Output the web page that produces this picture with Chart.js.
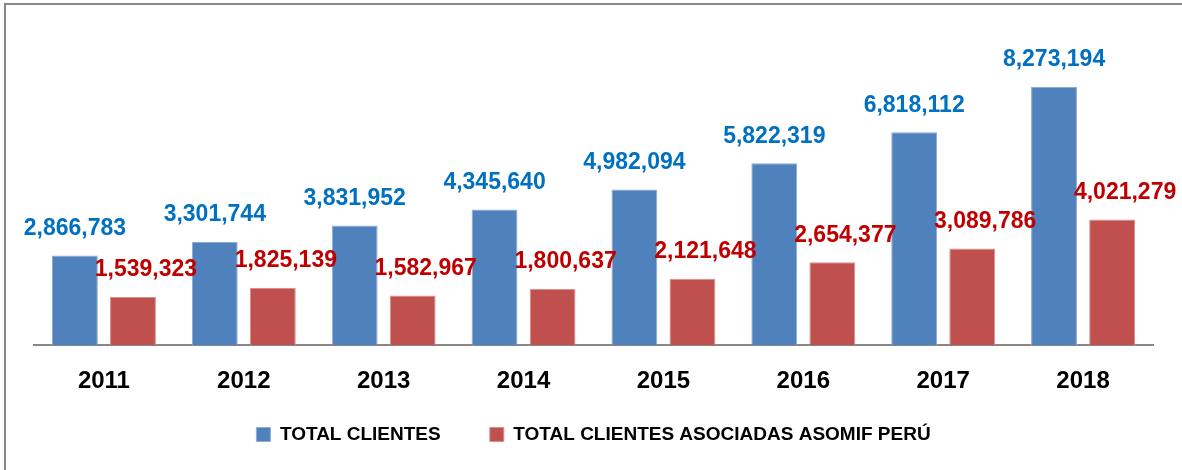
<!DOCTYPE html>
<html>
<head>
<meta charset="utf-8">
<script src="https://cdn.jsdelivr.net/npm/chart.js@4"></script>
<style>
    html, body { margin: 0; padding: 0; background: #fff; overflow: hidden; }
    .frame {
        position: absolute; left: 4px; top: 3px;
        width: 1200px; height: 500px;
        border: 2px solid #888;
    }
    .wrap { position: absolute; left: 0; top: 0; width: 1182px; height: 470px; }
</style>
</head>
<body>
<div class="frame"></div>
<div class="wrap"><canvas id="myBarChart"></canvas></div>
<script>
const years = ['2011', '2012', '2013', '2014', '2015', '2016', '2017', '2018'];
const totalClientes = [2866783, 3301744, 3831952, 4345640, 4982094, 5822319, 6818112, 8273194];
const clientesAsomif = [1539323, 1825139, 1582967, 1800637, 2121648, 2654377, 3089786, 4021279];
const seriesNames = ['TOTAL CLIENTES', 'TOTAL CLIENTES ASOCIADAS ASOMIF PERÚ'];

// etiquetas de valor encima de las barras
const valueLabels = {
    id: 'valueLabels',
    afterDatasetsDraw(chart) {
        const ctx = chart.ctx;
        const colors = ['#0070C0', '#C00000'];
        const shift = [0, 13];
        ctx.save();
        ctx.font = 'bold 23px "Liberation Sans", Arial, sans-serif';
        ctx.textAlign = 'center';
        ctx.textBaseline = 'middle';
        chart.data.datasets.forEach((ds, i) => {
            chart.getDatasetMeta(i).data.forEach((bar, j) => {
                ctx.fillStyle = colors[i];
                ctx.fillText(ds.data[j].toLocaleString('en-US'), bar.x + shift[i], bar.y - 27);
            });
        });
        ctx.restore();
    }
};

const ctxBar = document.getElementById('myBarChart').getContext('2d');
new Chart(ctxBar, {
    type: 'bar',
    data: {
        labels: years,
        datasets: [{
            label: seriesNames[0],
            data: totalClientes,
            backgroundColor: '#4F81BD',
            borderColor: '#8FAAD3',
            borderWidth: 1,
            categoryPercentage: 0.83,
            barPercentage: 0.79
        }, {
            label: seriesNames[1],
            data: clientesAsomif,
            backgroundColor: '#C0504D',
            borderColor: '#D98F8D',
            borderWidth: 1,
            categoryPercentage: 0.83,
            barPercentage: 0.79
        }]
    },
    options: {
        maintainAspectRatio: false,
        responsive: true,
        animation: false,
        layout: {
            padding: { left: 34, right: 29, top: 33, bottom: 16 }
        },
        plugins: {
            tooltip: { enabled: false },
            legend: {
                position: 'bottom',
                labels: {
                    boxWidth: 14,
                    boxHeight: 14,
                    padding: 28,
                    color: '#000',
                    font: { family: '"Liberation Sans", Arial, sans-serif', size: 19, weight: 'bold' },
                    // un poco más de espacio entre las dos entradas
                    generateLabels(chart) {
                        const items = Chart.defaults.plugins.legend.labels.generateLabels(chart);
                        items[0].text += '    ';
                        return items;
                    }
                }
            }
        },
        scales: {
            x: {
                grid: { display: false, drawTicks: false },
                border: { color: '#888', width: 2 },
                ticks: {
                    padding: 22,
                    color: '#000',
                    font: { family: '"Liberation Sans", Arial, sans-serif', size: 24, weight: 'bold' }
                },
                afterFit: (scale) => { scale.height = 52; }
            },
            y: {
                display: false,
                min: 0,
                max: 10000000
            }
        }
    },
    plugins: [valueLabels]
});
</script>
</body>
</html>
